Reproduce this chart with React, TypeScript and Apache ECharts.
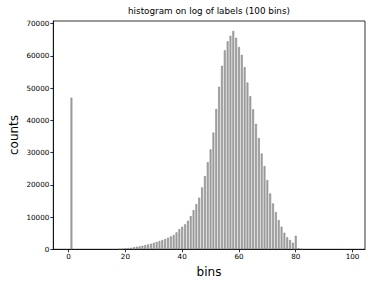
import React, { useEffect, useRef } from "react";
import * as echarts from "echarts";

// histogram counts for bins 0..99
const counts: number[] = [
  0, 47000, 0, 0, 0, 0, 0, 0, 0, 0,
  0, 0, 0, 0, 0, 0, 0, 0, 100, 200,
  300, 400, 500, 650, 800, 950, 1100, 1300, 1500, 1750,
  2000, 2300, 2570, 2880, 3190, 3600, 4000, 4430, 5260, 6280,
  7000, 7740, 8850, 10300, 12170, 14000, 16000, 19200, 22700, 27000,
  31000, 36200, 43500, 50400, 56900, 61700, 64500, 66200, 67700, 65600,
  62700, 60300, 56500, 51700, 47500, 43400, 38900, 34500, 29700, 25800,
  21450, 17300, 14200, 11550, 9070, 7000, 5140, 3700, 2880, 2040,
  4200, 300, 150, 0, 0, 0, 0, 0, 0, 0,
  0, 0, 0, 0, 0, 0, 0, 0, 0, 0,
];
const xTicks: number[] = [0, 20, 40, 60, 80, 100];
const yTicks: number[] = [0, 10000, 20000, 30000, 40000, 50000, 60000, 70000];
const titleText = "histogram on log of labels (100 bins)";
const xLabel = "bins";
const yLabel = "counts";

export default function App() {
  const ref = useRef<HTMLDivElement>(null);
  useEffect(() => {
    document.body.style.margin = "0";
    if (!ref.current) return;
    const chart = echarts.init(ref.current, null, { renderer: "svg" });
    const data = counts
      .map((c, i) => [i, c])
      .filter((d) => d[1] > 0);
    const font = "DejaVu Sans";
    chart.setOption({
      animation: false,
      grid: {
        left: 53.3,
        right: 9,
        top: 21,
        bottom: 36.7,
        containLabel: false,
        outerBoundsMode: "none",
        show: true,
        borderColor: "#000",
        borderWidth: 0.8,
        backgroundColor: "transparent",
      },
      xAxis: {
        type: "value",
        min: -5.39,
        max: 104.39,
        splitLine: { show: false },
        axisLine: { show: true, onZero: false, lineStyle: { color: "#000", width: 0.8 } },
        axisTick: {
          show: true,
          length: 3,
          lineStyle: { color: "#000", width: 0.8 },
          customValues: xTicks,
        },
        axisLabel: {
          customValues: xTicks,
          fontFamily: font,
          fontSize: 7.2,
          color: "#000",
          margin: 4,
          formatter: (v: number) => String(v),
        },
      },
      yAxis: {
        type: "value",
        min: 0,
        max: 70800,
        splitLine: { show: false },
        axisLine: { show: true, onZero: false, lineStyle: { color: "#000", width: 0.8 } },
        axisTick: {
          show: true,
          length: 3,
          lineStyle: { color: "#000", width: 0.8 },
          customValues: yTicks,
        },
        axisLabel: {
          customValues: yTicks,
          fontFamily: font,
          fontSize: 7.2,
          color: "#000",
          margin: 4,
          formatter: (v: number) => String(v),
        },
      },
      graphic: [
        {
          type: "text",
          x: 209,
          y: 11,
          style: {
            text: titleText,
            font: `8.8px "${font}"`,
            fill: "#000",
            align: "center",
            verticalAlign: "middle",
          },
        },
        {
          type: "text",
          x: 209,
          y: 272,
          style: {
            text: xLabel,
            font: `12px "${font}"`,
            fill: "#000",
            align: "center",
            verticalAlign: "middle",
          },
        },
        {
          type: "text",
          x: 14,
          y: 135,
          rotation: Math.PI / 2,
          style: {
            text: yLabel,
            font: `12px "${font}"`,
            fill: "#000",
            align: "center",
            verticalAlign: "middle",
          },
        },
      ],
      series: [
        {
          type: "bar",
          data,
          barWidth: 1.8,
          itemStyle: {
            color: "#b0b0b0",
            borderColor: "#6e6e6e",
            borderWidth: 0.5,
          },
          silent: true,
        },
      ],
    });
    return () => chart.dispose();
  }, []);
  return <div ref={ref} style={{ width: 374, height: 286 }} />;
}
